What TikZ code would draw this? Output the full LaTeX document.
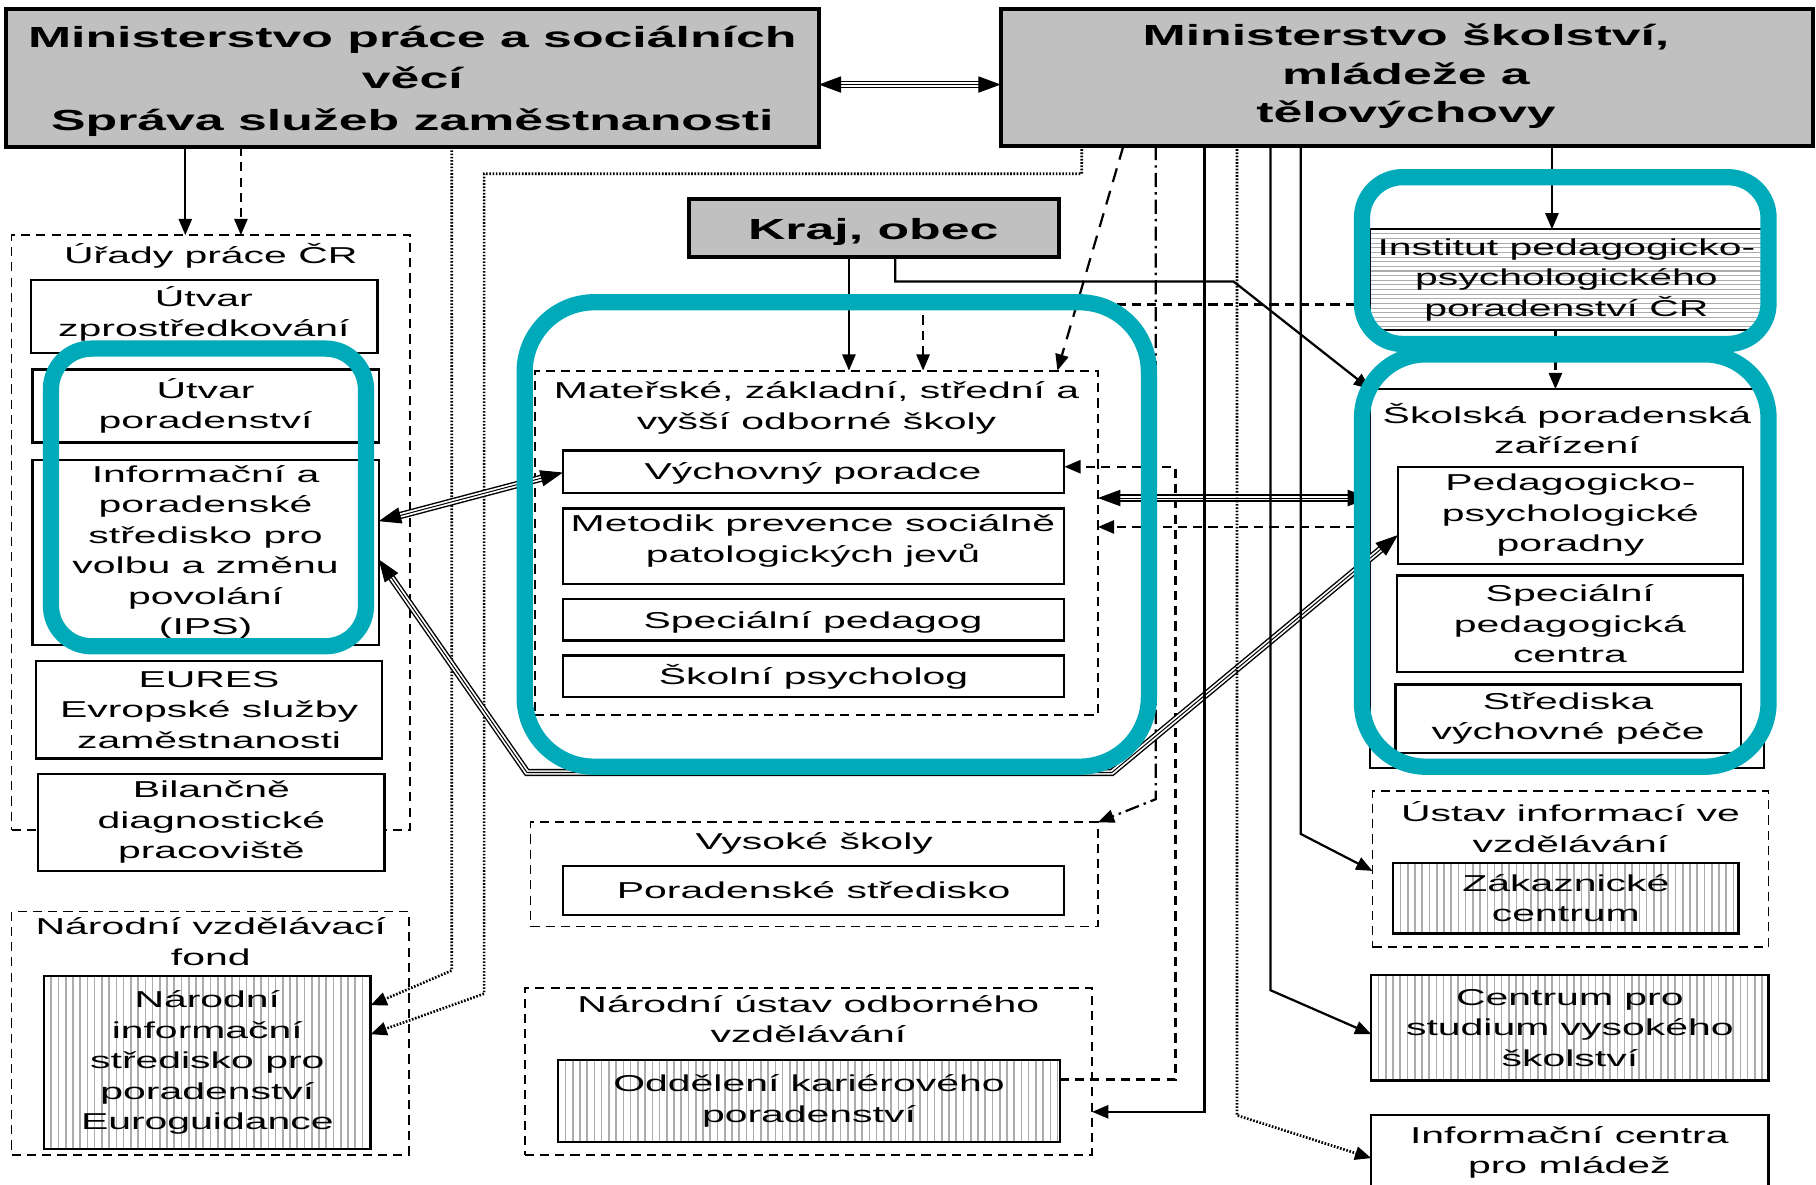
\documentclass[tikz,border=0pt]{standalone}
\usepackage{fontspec}
\setmainfont{Liberation Sans}[FakeStretch=1.78]
\usetikzlibrary{arrows.meta,fit}
\definecolor{hlteal}{RGB}{0,170,185}
\definecolor{boxgrey}{RGB}{192,192,192}
\definecolor{hatchc}{RGB}{172,172,172}
\begin{document}
\begin{tikzpicture}[
  x=0.02cm, y=-0.02cm,
  every node/.style={font=\fontsize{11.3}{15}\selectfont, align=center, inner sep=0pt, outer sep=0pt},
  sbox/.style={draw, line width=1.1pt, fill=white},
  cbox/.style={draw, line width=0.9pt, dash pattern=on 4.5pt off 3pt},
  gbox/.style={draw, line width=2pt, fill=boxgrey},
  gtext/.style={font=\fontsize{14.3}{20.5}\selectfont\bfseries},
  vhatch/.style={path picture={\foreach \k in {1,...,80}{\draw[hatchc, line width=0.8pt] ([xshift=\k*0.125cm]path picture bounding box.north west) -- ([xshift=\k*0.125cm]path picture bounding box.south west);}}},
  hhatch/.style={path picture={\foreach \k in {1,...,25}{\draw[hatchc, line width=0.5pt] ([yshift=-\k*0.08cm]path picture bounding box.north west) -- ([yshift=-\k*0.08cm]path picture bounding box.north east);}}},
  arr/.style={line width=1.1pt, -{Triangle[length=8pt,width=6.5pt]}},
  dsh/.style={dash pattern=on 4.5pt off 3pt},
  ldsh/.style={dash pattern=on 7pt off 4.5pt},
  dotl/.style={dash pattern=on 0.8pt off 0.8pt, line width=1.3pt},
  ddot/.style={dash pattern=on 7pt off 2.5pt on 1.2pt off 2.5pt},
  tri/.style={line width=0.5pt, {Triangle[length=11pt,width=8pt]}-{Triangle[length=11pt,width=8pt]},
    preaction={draw, -, line width=3.6pt, shorten <=8pt, shorten >=8pt},
    preaction={draw=white, -, line width=2.2pt, shorten <=8pt, shorten >=8pt}},
  hl/.style={draw=hlteal, line width=8pt, inner sep=0pt}
]
\useasboundingbox (0,0) rectangle (1568,1023);

% ---- top boxes
\node[gbox, fit={(5,8) (707,127)}] (mpsv) {};
\node[gtext] (mpsv-t) at (356,70) {Ministerstvo práce a sociálních\\věcí\\Správa služeb zaměstnanosti};
\node[gbox, fit={(864,8) (1565,126)}] (msmt) {};
\node[gtext, font=\fontsize{14.3}{19}\selectfont\bfseries] (msmt-t) at (1214,66) {Ministerstvo školství,\\mládeže a\\tělovýchovy};
\node[gbox, fit={(595,172) (914,222)}] (kraj) {};
\node[gtext] (kraj-t) at (754,200) {Kraj, obec};

% ---- left column
\node[cbox, fit={(10,203) (354,717)}] (up) {};
\node (uptitle) at (182,221) {Úřady práce ČR};
\node[sbox, fit={(27,242) (326,305)}] (utz) {};
\node (utz-t) at (176,271) {Útvar\\zprostředkování};
\node[sbox, fit={(28,319) (327,382)}] (utp) {};
\node (utp-t) at (utp) {Útvar\\poradenství};
\node[sbox, fit={(28,397) (327,557)}] (ips) {};
\node (ips-t) at (ips) {Informační a\\poradenské\\středisko pro\\volbu a změnu\\povolání\\(IPS)};
\node[sbox, fit={(31,571) (330,655)}] (eures) {};
\node (eures-t) at (eures) {EURES\\Evropské služby\\zaměstnanosti};
\node[sbox, fit={(33,668) (332,752)}] (bil) {};
\node (bil-t) at (bil) {Bilančně\\diagnostické\\pracoviště};

\node[cbox, fit={(10,787) (353,997)}] (nvf) {};
\node (nvftitle) at (182,813) {Národní vzdělávací\\fond};
\node[sbox, vhatch, fit={(38,843) (320,992)}] (nis) {};
\node (nis-t) at (nis) {Národní\\informační\\středisko pro\\poradenství\\Euroguidance};

% ---- centre column
\node[cbox, fit={(462,320) (948,617)}] (ms) {};
\node (mstitle) at (705,352) {Mateřské, základní, střední a\\vyšší odborné školy};
\node[sbox, fit={(486,389) (919,426)}] (vp) {};
\node (vp-t) at (702,409) {Výchovný poradce};
\node[sbox, fit={(486,439) (919,504)}] (met) {};
\node (met-t) at (702,467) {Metodik prevence sociálně\\patologických jevů};
\node[sbox, fit={(486,517) (919,553)}] (spp) {};
\node (spp-t) at (702,537) {Speciální pedagog};
\node[sbox, fit={(486,566) (919,602)}] (sps) {};
\node (sps-t) at (sps) {Školní psycholog};

\node[cbox, fit={(458,710) (948,800)}] (vs) {};
\node (vstitle) at (703,728) {Vysoké školy};
\node[sbox, fit={(486,748) (919,790)}] (pst) {};
\node (pst-t) at (pst) {Poradenské středisko};

\node[cbox, fit={(453,853) (943,997)}] (nuov) {};
\node (nuovtitle) at (698,880) {Národní ústav odborného\\vzdělávání};
\node[sbox, vhatch, fit={(482,915) (915,986)}] (okp) {};
\node (okp-t) at (okp) {Oddělení kariérového\\poradenství};

% ---- right column
\node[sbox, hhatch, fit={(1183,198) (1522,285)}] (ippp) {};
\node (ippp-t) at (ippp) {Institut pedagogicko-\\psychologického\\poradenství ČR};
\node[sbox, fit={(1183,336) (1523,663)}] (spz) {};
\node (spztitle) at (1353,370) {Školská poradenská\\zařízení};
\node[sbox, fit={(1207,403) (1505,487)}] (ppp) {};
\node (ppp-t) at (ppp) {Pedagogicko-\\psychologické\\poradny};
\node[sbox, fit={(1206,497) (1505,580)}] (spc) {};
\node (spc-t) at (spc) {Speciální\\pedagogická\\centra};
\node[sbox, fit={(1205,591) (1503,650)}] (svp) {};
\node (svp-t) at (svp) {Střediska\\výchovné péče};

\node[cbox, fit={(1185,683) (1527,818)}] (uiv) {};
\node (uivtitle) at (1356,714) {Ústav informací ve\\vzdělávání};
\node[sbox, vhatch, fit={(1203,745) (1501,806)}] (zc) {};
\node (zc-t) at (zc) {Zákaznické\\centrum};
\node[sbox, vhatch, fit={(1184,842) (1527,933)}] (cvs) {};
\node (cvs-t) at (cvs) {Centrum pro\\studium vysokého\\školství};
\node[sbox, fit={(1184,963) (1527,1030)}] (icm) {};
\node (icm-t) at (1355,995) {Informační centra\\pro mládež};

% ---- connectors
\draw[arr] (160,0 |- mpsv.south) -- (160,0 |- up.north);
\draw[arr, dsh] (208,0 |- mpsv.south) -- (208,0 |- up.north);
\draw[tri] (mpsv.east |- 0,73) -- (msmt.west |- 0,73);
\draw[arr, dotl] (390,0 |- mpsv.south) -- (390,838) -- (nis.east |- 0,868);
\draw[arr, dotl] (934,0 |- msmt.south) -- (934,150) -- (418,150) -- (418,858) -- (nis.east |- 0,893);
\draw[arr] (733,0 |- kraj.south) -- (733,0 |- ms.north);
\draw[arr, dsh] (ippp.west |- 0,263) -- (797,263) -- (797,0 |- ms.north);
\draw[arr, ldsh] (970,0 |- msmt.south) -- (913,0 |- ms.north);
\draw[arr] (773,0 |- kraj.south) -- (773,243) -- (1065,243) -- (spz.north west);
\draw[arr, ddot] (998,0 |- msmt.south) -- (998,690) -- (vs.north east);
\draw[arr, dsh] (okp.east |- 0,932) -- (1015,932) -- (1015,403) -- (vp.east |- 0,403);
\draw[tri] (ms.east |- 0,430) -- (spz.west |- 0,430);
\draw[arr, dsh] (spz.west |- 0,455) -- (ms.east |- 0,455);
\draw[tri] (vp.west |- 0,408) -- (ips.east |- 0,450);
\draw[tri] (ips.east |- 0,483) -- (455,667) -- (960,667) -- (ppp.west |- 0,462);
\draw[arr] (1040,0 |- msmt.south) -- (1040,960) -- (nuov.east |- 0,960);
\draw[arr, dotl] (1068,0 |- msmt.south) -- (1068,963) -- (icm.west |- 0,1000);
\draw[arr] (1097,0 |- msmt.south) -- (1097,855) -- (cvs.west |- 0,893);
\draw[arr] (1123,0 |- msmt.south) -- (1123,720) -- (uiv.west |- 0,752);
\draw[arr] (1340,0 |- msmt.south) -- (1340,0 |- ippp.north);
\draw[arr, dsh] (1343,0 |- ippp.south) -- (1343,0 |- spz.north);

% ---- teal highlights
\node[hl, rounded corners=0.7cm, fit={(44,301) (316,558)}] (hl1) {};
\node[hl, rounded corners=1.2cm, fit={(453,261) (992,662)}] (hl2) {};
\node[hl, rounded corners=0.7cm, fit={(1176,153) (1527,297)}] (hl3) {};
\node[hl, rounded corners=1.1cm, fit={(1176,306) (1527,662)}] (hl4) {};
\end{tikzpicture}
\end{document}
